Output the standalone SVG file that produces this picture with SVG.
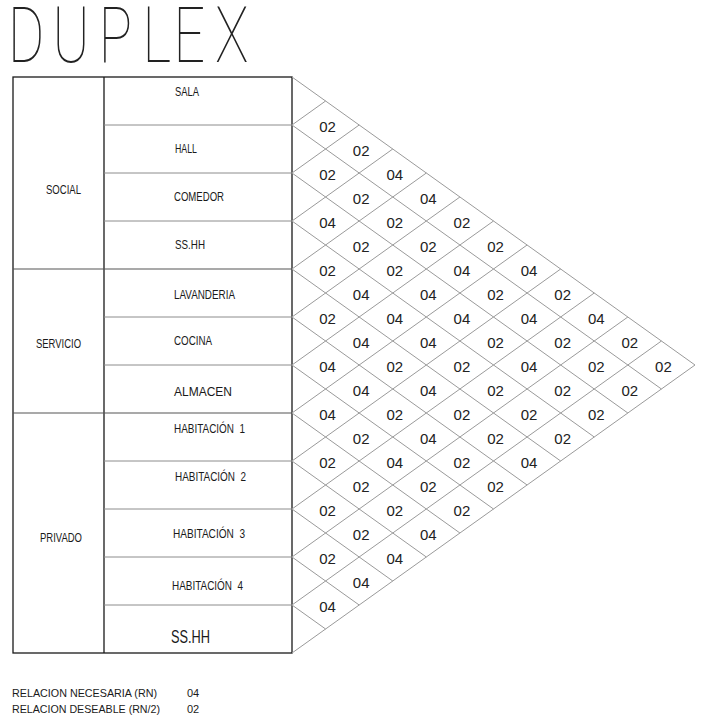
<svg xmlns="http://www.w3.org/2000/svg" width="703" height="722" viewBox="0 0 703 722">
<style>
.bg{fill:#fff}
.title{font-family:Roboto,Lato,Inter,"Liberation Sans",sans-serif;font-weight:100;font-size:77px;fill:#222}
.lbl{font-family:"Liberation Sans",Arial,sans-serif;font-size:13px;fill:#1a1a1a}
.big{font-size:18px}
.num{font-family:"Liberation Sans",Arial,sans-serif;font-size:15px;fill:#222;text-anchor:middle}
.leg{font-family:"Liberation Sans",Arial,sans-serif;font-size:11px;fill:#1a1a1a}
.frame{fill:none;stroke:#1a1a1a;stroke-width:1.3}
.row{stroke:#8c8c8c;stroke-width:1}
.sep{stroke:#555;stroke-width:1.1}
.diag{stroke:#9a9a9a;stroke-width:1;fill:none}
</style>
<rect class="bg" x="0" y="0" width="703" height="722"/>
<g id="title">
<text class="title" transform="translate(0,62) scale(0.72,1)" x="11 73 137 198 241 299" y="0">DUPLEX</text>
</g>
<g id="table-frame">
<rect class="frame" x="13" y="77" width="279" height="576"/>
<line class="frame" x1="104" y1="77" x2="104" y2="653"/>
</g>
<g id="zone-social">
<text class="lbl" x="46" y="194" textLength="35" lengthAdjust="spacingAndGlyphs">SOCIAL</text>
</g>
<g id="zone-servicio">
<line class="sep" x1="13" y1="269" x2="292" y2="269"/>
<text class="lbl" x="36" y="348" textLength="45" lengthAdjust="spacingAndGlyphs">SERVICIO</text>
</g>
<g id="zone-privado">
<line class="sep" x1="13" y1="413" x2="292" y2="413"/>
<text class="lbl" x="40" y="542" textLength="42" lengthAdjust="spacingAndGlyphs">PRIVADO</text>
</g>
<g id="room-sala"><text class="lbl" x="175" y="96" textLength="24" lengthAdjust="spacingAndGlyphs">SALA</text></g>
<g id="room-hall"><line class="row" x1="104" y1="125" x2="292" y2="125"/><text class="lbl" x="175" y="152.5" textLength="22" lengthAdjust="spacingAndGlyphs">HALL</text></g>
<g id="room-comedor"><line class="row" x1="104" y1="173" x2="292" y2="173"/><text class="lbl" x="174" y="201" textLength="50" lengthAdjust="spacingAndGlyphs">COMEDOR</text></g>
<g id="room-sshh-social"><line class="row" x1="104" y1="221" x2="292" y2="221"/><text class="lbl" x="175" y="249" textLength="30" lengthAdjust="spacingAndGlyphs">SS.HH</text></g>
<g id="room-lavanderia"><text class="lbl" x="174" y="299" textLength="61" lengthAdjust="spacingAndGlyphs">LAVANDERIA</text></g>
<g id="room-cocina"><line class="row" x1="104" y1="317" x2="292" y2="317"/><text class="lbl" x="174" y="345" textLength="38" lengthAdjust="spacingAndGlyphs">COCINA</text></g>
<g id="room-almacen"><line class="row" x1="104" y1="365" x2="292" y2="365"/><text class="lbl" x="174" y="396" textLength="58" lengthAdjust="spacingAndGlyphs">ALMACEN</text></g>
<g id="room-habitacion1"><text class="lbl" x="174" y="432.5" textLength="71" lengthAdjust="spacingAndGlyphs" xml:space="preserve">HABITACIÓN  1</text></g>
<g id="room-habitacion2"><line class="row" x1="104" y1="461" x2="292" y2="461"/><text class="lbl" x="175" y="480.5" textLength="71" lengthAdjust="spacingAndGlyphs" xml:space="preserve">HABITACIÓN  2</text></g>
<g id="room-habitacion3"><line class="row" x1="104" y1="509" x2="292" y2="509"/><text class="lbl" x="173" y="537.5" textLength="72" lengthAdjust="spacingAndGlyphs" xml:space="preserve">HABITACIÓN  3</text></g>
<g id="room-habitacion4"><line class="row" x1="104" y1="557" x2="292" y2="557"/><text class="lbl" x="172" y="590" textLength="71" lengthAdjust="spacingAndGlyphs" xml:space="preserve">HABITACIÓN  4</text></g>
<g id="room-sshh-privado"><line class="row" x1="104" y1="605" x2="292" y2="605"/><text class="lbl big" x="171" y="643" textLength="39" lengthAdjust="spacingAndGlyphs">SS.HH</text></g>
<g id="connectors">
<path class="diag" d="M292 77L695 365M292 125L661.42 389M292 173L627.83 413M292 221L594.25 437M292 269L560.67 461M292 317L527.08 485M292 365L493.5 509M292 413L459.92 533M292 461L426.33 557M292 509L392.75 581M292 557L359.17 605M292 605L325.58 629"/>
<path class="diag" d="M292 125L325.58 101M292 173L359.17 125M292 221L392.75 149M292 269L426.33 173M292 317L459.92 197M292 365L493.5 221M292 413L527.08 245M292 461L560.67 269M292 509L594.25 293M292 557L627.83 317M292 605L661.42 341M292 653L695 365"/>
</g>
<g id="relations">
<text class="num" x="327.6" y="132">02</text>
<text class="num" x="361.2" y="156">02</text>
<text class="num" x="327.6" y="180">02</text>
<text class="num" x="394.8" y="180">04</text>
<text class="num" x="361.2" y="204">02</text>
<text class="num" x="428.3" y="204">04</text>
<text class="num" x="327.6" y="228">04</text>
<text class="num" x="394.8" y="228">02</text>
<text class="num" x="461.9" y="228">02</text>
<text class="num" x="361.2" y="252">02</text>
<text class="num" x="428.3" y="252">02</text>
<text class="num" x="495.5" y="252">02</text>
<text class="num" x="327.6" y="276">02</text>
<text class="num" x="394.8" y="276">02</text>
<text class="num" x="461.9" y="276">04</text>
<text class="num" x="529.1" y="276">04</text>
<text class="num" x="361.2" y="300">04</text>
<text class="num" x="428.3" y="300">04</text>
<text class="num" x="495.5" y="300">02</text>
<text class="num" x="562.7" y="300">02</text>
<text class="num" x="327.6" y="324">02</text>
<text class="num" x="394.8" y="324">04</text>
<text class="num" x="461.9" y="324">04</text>
<text class="num" x="529.1" y="324">04</text>
<text class="num" x="596.3" y="324">04</text>
<text class="num" x="361.2" y="348">04</text>
<text class="num" x="428.3" y="348">04</text>
<text class="num" x="495.5" y="348">02</text>
<text class="num" x="562.7" y="348">02</text>
<text class="num" x="629.8" y="348">02</text>
<text class="num" x="327.6" y="372">04</text>
<text class="num" x="394.8" y="372">02</text>
<text class="num" x="461.9" y="372">02</text>
<text class="num" x="529.1" y="372">04</text>
<text class="num" x="596.3" y="372">02</text>
<text class="num" x="663.4" y="372">02</text>
<text class="num" x="361.2" y="396">04</text>
<text class="num" x="428.3" y="396">04</text>
<text class="num" x="495.5" y="396">02</text>
<text class="num" x="562.7" y="396">02</text>
<text class="num" x="629.8" y="396">02</text>
<text class="num" x="327.6" y="420">04</text>
<text class="num" x="394.8" y="420">02</text>
<text class="num" x="461.9" y="420">02</text>
<text class="num" x="529.1" y="420">02</text>
<text class="num" x="596.3" y="420">02</text>
<text class="num" x="361.2" y="444">02</text>
<text class="num" x="428.3" y="444">04</text>
<text class="num" x="495.5" y="444">02</text>
<text class="num" x="562.7" y="444">02</text>
<text class="num" x="327.6" y="468">02</text>
<text class="num" x="394.8" y="468">04</text>
<text class="num" x="461.9" y="468">02</text>
<text class="num" x="529.1" y="468">04</text>
<text class="num" x="361.2" y="492">02</text>
<text class="num" x="428.3" y="492">02</text>
<text class="num" x="495.5" y="492">02</text>
<text class="num" x="327.6" y="516">02</text>
<text class="num" x="394.8" y="516">02</text>
<text class="num" x="461.9" y="516">02</text>
<text class="num" x="361.2" y="540">02</text>
<text class="num" x="428.3" y="540">04</text>
<text class="num" x="327.6" y="564">02</text>
<text class="num" x="394.8" y="564">04</text>
<text class="num" x="361.2" y="588">04</text>
<text class="num" x="327.6" y="612">04</text>
</g>
<g id="legend">
<text class="leg" x="12" y="697" textLength="145" lengthAdjust="spacingAndGlyphs">RELACION NECESARIA (RN)</text>
<text class="leg" x="187" y="697">04</text>
<text class="leg" x="12" y="713" textLength="148" lengthAdjust="spacingAndGlyphs">RELACION DESEABLE (RN/2)</text>
<text class="leg" x="187" y="713">02</text>
</g>
</svg>
